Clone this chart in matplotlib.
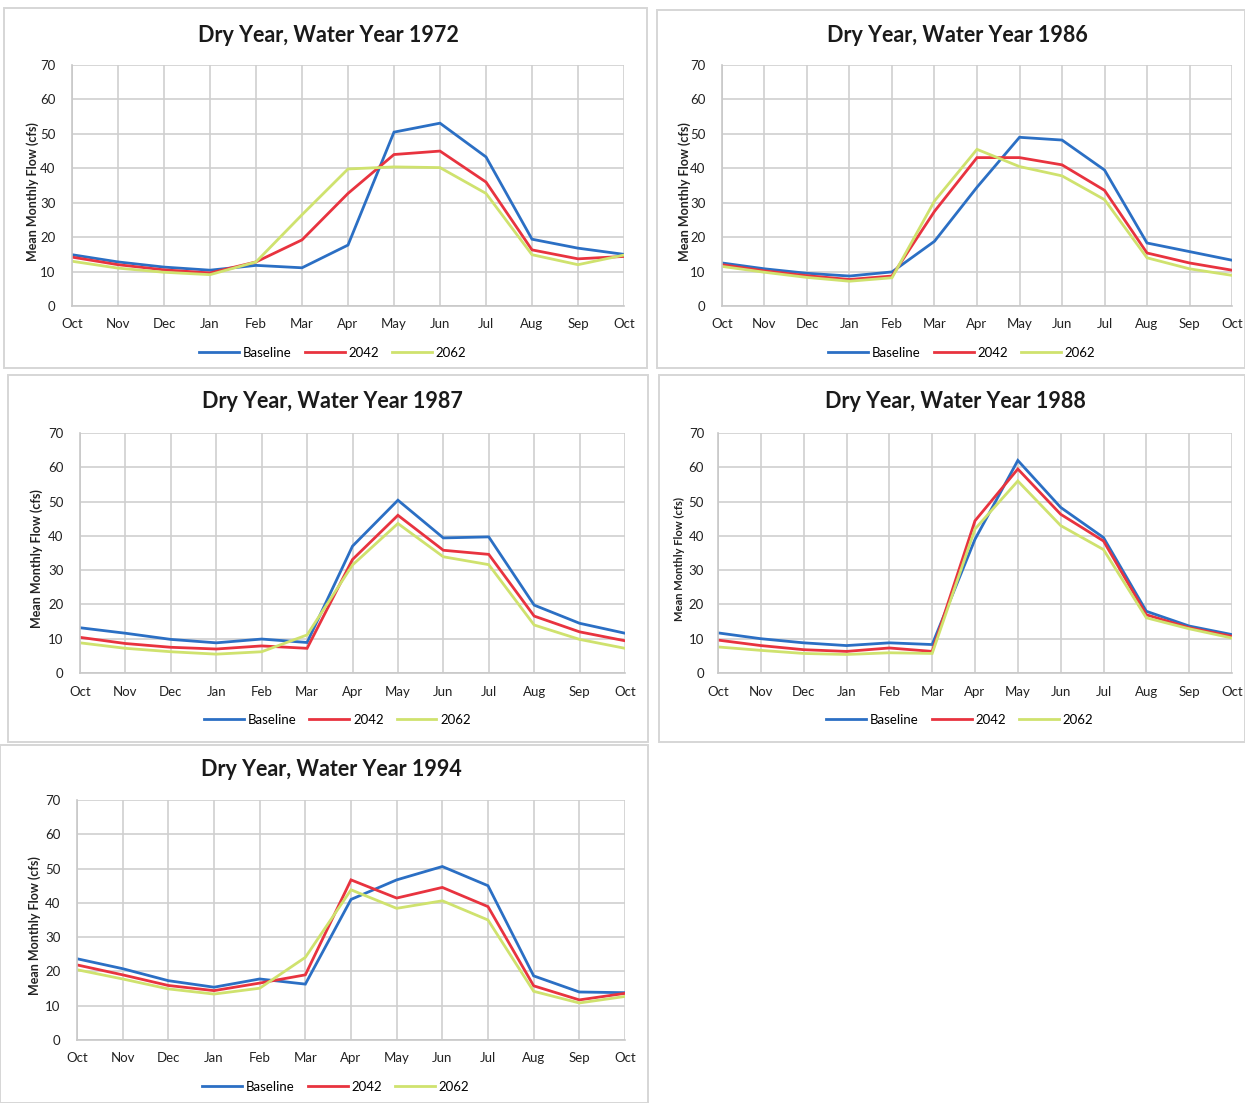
import matplotlib
matplotlib.use("Agg")
import matplotlib.pyplot as plt
from matplotlib.patches import Rectangle

plt.rcParams['font.family'] = ['Lato', 'DejaVu Sans']

months = ["Oct", "Nov", "Dec", "Jan", "Feb", "Mar", "Apr", "May", "Jun", "Jul", "Aug", "Sep", "Oct"]
series_names = ["Baseline", "2042", "2062"]
yticks = [0, 10, 20, 30, 40, 50, 60, 70]

# Water year 1972
wy1972_baseline = [14.9, 12.8, 11.3, 10.4, 11.8, 11.1, 17.7, 50.5, 53.1, 43.3, 19.4, 16.8, 15.0]
wy1972_2042 = [14.2, 12.0, 10.5, 9.6, 12.8, 19.2, 32.7, 44.0, 45.0, 36.0, 16.3, 13.7, 14.4]
wy1972_2062 = [13.0, 11.0, 9.8, 9.1, 12.8, 26.5, 39.8, 40.4, 40.2, 32.7, 14.9, 12.0, 14.8]

# Water year 1986
wy1986_baseline = [12.5, 10.8, 9.5, 8.7, 9.9, 18.8, 34.5, 49.0, 48.2, 39.5, 18.3, 15.8, 13.3]
wy1986_2042 = [12.0, 10.2, 8.8, 7.7, 8.7, 27.5, 43.1, 43.1, 41.0, 33.6, 15.4, 12.5, 10.4]
wy1986_2062 = [11.5, 9.8, 8.3, 7.2, 8.2, 30.5, 45.5, 40.5, 37.8, 30.9, 14.0, 10.8, 8.9]

# Water year 1987
wy1987_baseline = [13.2, 11.6, 9.8, 8.8, 9.9, 8.9, 37.0, 50.4, 39.4, 39.7, 19.8, 14.5, 11.6]
wy1987_2042 = [10.4, 8.6, 7.5, 7.0, 7.9, 7.2, 33.1, 46.0, 35.8, 34.6, 16.6, 12.0, 9.4]
wy1987_2062 = [8.8, 7.2, 6.2, 5.5, 6.2, 11.1, 31.5, 43.6, 33.9, 31.6, 14.0, 9.8, 7.2]

# Water year 1988
wy1988_baseline = [11.7, 10.0, 8.8, 8.0, 8.8, 8.3, 39.0, 62.0, 48.3, 39.5, 18.0, 13.7, 11.2]
wy1988_2042 = [9.6, 8.0, 6.8, 6.3, 7.3, 6.3, 44.4, 59.5, 46.3, 38.5, 17.0, 13.2, 10.7]
wy1988_2062 = [7.6, 6.6, 5.7, 5.4, 5.9, 5.7, 42.0, 56.0, 43.0, 36.0, 16.1, 12.9, 10.2]

# Water year 1994
wy1994_baseline = [23.7, 20.8, 17.3, 15.4, 17.8, 16.3, 41.0, 46.7, 50.6, 45.0, 18.7, 14.0, 13.8]
wy1994_2042 = [21.9, 19.0, 15.9, 14.4, 16.6, 19.0, 46.7, 41.4, 44.5, 38.9, 15.8, 11.7, 13.6]
wy1994_2062 = [20.5, 17.8, 14.9, 13.4, 15.1, 24.1, 43.8, 38.4, 40.6, 35.0, 14.2, 10.8, 12.7]

titles = ["Dry Year, Water Year 1972", "Dry Year, Water Year 1986", "Dry Year, Water Year 1987",
          "Dry Year, Water Year 1988", "Dry Year, Water Year 1994"]
data = [
    (wy1972_baseline, wy1972_2042, wy1972_2062),
    (wy1986_baseline, wy1986_2042, wy1986_2062),
    (wy1987_baseline, wy1987_2042, wy1987_2062),
    (wy1988_baseline, wy1988_2042, wy1988_2062),
    (wy1994_baseline, wy1994_2042, wy1994_2062),
]
colors = ["#2b6fc4", "#e8333f", "#cfe26e"]

W, H = 1245, 1103
fig = plt.figure(figsize=(W / 100, H / 100), dpi=100)

# layout in pixels: plot box (left, top, right, bottom), frame box, title y, ylabel x, legend y
layouts = [
    dict(box=(72, 65, 624, 306), frame=(4, 8, 647, 368), ty=35, ylx=33, ly=353, ypad=12, ylfs=9),
    dict(box=(722, 65, 1232, 306), frame=(657, 10, 1245, 368), ty=35, ylx=685, ly=353, ypad=12, ylfs=9),
    dict(box=(80, 433, 625, 673), frame=(8, 375, 648, 742), ty=402, ylx=37, ly=720, ypad=12, ylfs=9),
    dict(box=(718, 433, 1232, 673), frame=(659, 375, 1245, 742), ty=402, ylx=679, ly=720, ypad=10, ylfs=8),
    dict(box=(77, 800, 625, 1040), frame=(0, 745, 648, 1103), ty=769, ylx=35, ly=1087, ypad=12, ylfs=9),
]

def fx(x):
    return x / W

def fy(y):
    return 1 - y / H

for title, vals, lay in zip(titles, data, layouts):
    fl, ft, fr, fb = lay["frame"]
    rect = Rectangle((fx(fl), fy(fb)), fx(fr) - fx(fl), fy(ft) - fy(fb), transform=fig.transFigure,
                     fill=False, edgecolor="#d6d6d6", linewidth=1.4)
    fig.add_artist(rect)

    l, t, r, b = lay["box"]
    ax = fig.add_axes([fx(l), fy(b), fx(r) - fx(l), fy(t) - fy(b)])
    x = list(range(len(months)))
    lines = []
    for v, c, name in zip(vals, colors, series_names):
        ln, = ax.plot(x, v, color=c, lw=2.0, label=name, solid_joinstyle="miter")
        lines.append(ln)
    ax.set_xlim(0, 12)
    ax.set_ylim(0, 70)
    ax.set_xticks(x)
    ax.set_xticklabels(months, fontsize=9.5, color="#222222")
    ax.set_yticks(yticks)
    ax.set_yticklabels([str(v) for v in yticks], fontsize=9.5, color="#222222")
    ax.tick_params(axis="x", length=0, pad=9)
    ax.tick_params(axis="y", length=0, pad=lay["ypad"])
    ax.grid(True, color="#cfcfcf", lw=1.2)
    ax.set_axisbelow(True)
    for s in ["top", "right"]:
        ax.spines[s].set_visible(False)
    for s in ["left", "bottom"]:
        ax.spines[s].set_color("#c8c8c8")
        ax.spines[s].set_linewidth(1.2)

    fig.text(fx((l + r) / 2 - 20), fy(lay["ty"]), title, ha="center", va="center",
             fontsize=15.5, fontweight="bold", color="#1a1a1a")
    fig.text(fx(lay["ylx"]), fy((t + b) / 2 + 6), "Mean Monthly Flow (cfs)", rotation=90,
             ha="center", va="center", fontsize=lay["ylfs"], fontweight="bold", color="#222222")
    fig.legend(handles=lines, loc="center", bbox_to_anchor=(fx((l + r) / 2 - 15), fy(lay["ly"])),
               ncol=3, frameon=False, fontsize=9.5, handlelength=3.0, handletextpad=0.3,
               columnspacing=1.0, borderaxespad=0)

fig.savefig("out.png", dpi=100, facecolor="white")
